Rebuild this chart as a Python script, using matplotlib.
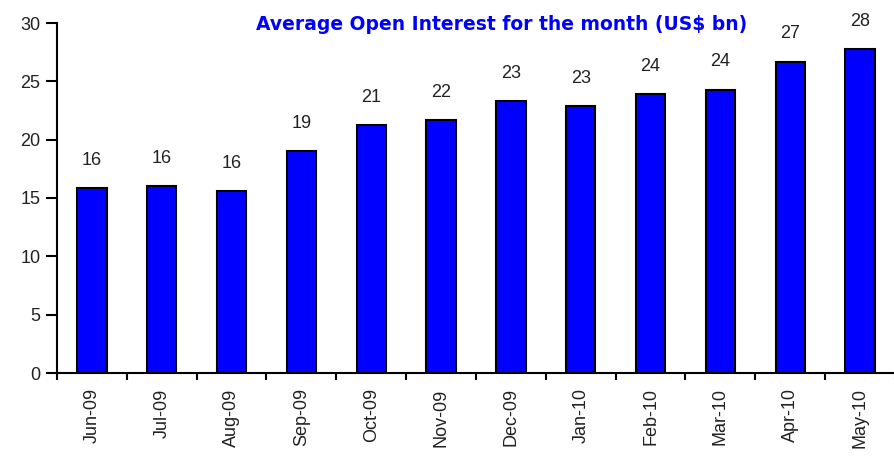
import matplotlib
matplotlib.use("Agg")
import matplotlib.pyplot as plt
import numpy as np

months = ["Jun-09", "Jul-09", "Aug-09", "Sep-09", "Oct-09", "Nov-09",
          "Dec-09", "Jan-10", "Feb-10", "Mar-10", "Apr-10", "May-10"]
values = [15.85, 16.0, 15.6, 19.05, 21.25, 21.7, 23.3, 22.9, 23.9, 24.3, 26.7, 27.8]
labels = ["16", "16", "16", "19", "21", "22", "23", "23", "24", "24", "27", "28"]
title = "Average Open Interest for the month (US$ bn)"

plt.rcParams['font.family'] = ['Liberation Sans', 'DejaVu Sans']

fig = plt.figure(figsize=(8.95, 4.58), dpi=100)
ax = fig.add_axes([57/895, 85/458, (895-57)/895, 350/458])

x = np.arange(len(months))
ax.bar(x, values, width=0.42, color="#0000FF", edgecolor="black", linewidth=1.5, zorder=3)

for xi, v, lab in zip(x, values, labels):
    ax.annotate(lab, (xi, v), xytext=(0, 19), textcoords="offset pixels",
                ha="center", va="bottom", fontsize=13, color="#222222")

ax.set_xlim(-0.5, len(months) - 0.5)
ax.set_ylim(0, 30)
ax.set_yticks(np.arange(0, 31, 5))
ax.set_xticks(x)
ax.set_xticklabels(months, rotation=90, fontsize=13, color="#222222")
ax.set_xticks(np.arange(-0.5, len(months), 1), minor=True)
ax.tick_params(axis="x", which="major", length=0, pad=11)
ax.tick_params(axis="x", which="minor", length=5, width=1.5, direction="out")
ax.tick_params(axis="y", length=8, width=1.5, direction="out", labelsize=13,
               labelcolor="#222222", pad=4)

for s in ["top", "right"]:
    ax.spines[s].set_visible(False)
for s in ["left", "bottom"]:
    ax.spines[s].set_linewidth(1.5)
    ax.spines[s].set_color("black")

ax.text(0.53, 0.995, title, transform=ax.transAxes, ha="center", va="center",
        fontsize=13.5, fontweight="bold", color="#0000FF",
        family=["DejaVu Sans"])

fig.savefig("out.png", dpi=100)
